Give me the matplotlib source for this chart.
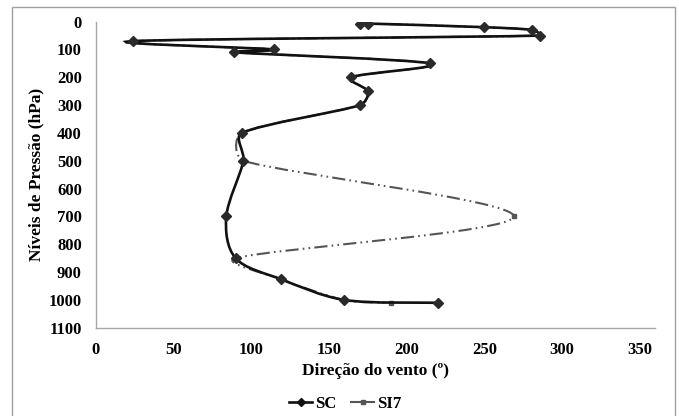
import numpy as np
import matplotlib.pyplot as plt
from matplotlib.path import Path
from matplotlib.patches import PathPatch, Rectangle
from matplotlib.lines import Line2D

plt.rcParams['font.family'] = ['Liberation Serif', 'DejaVu Serif']
plt.rcParams['font.weight'] = 'bold'
plt.rcParams['lines.scale_dashes'] = False

# wind direction (deg) and pressure level (hPa)
sc_dir = [170, 175, 250, 281, 286, 24, 115, 89, 215, 164, 175, 170, 94, 95, 84, 90, 119, 160, 220]
sc_p = [10, 7, 20, 30, 50, 70, 100, 110, 150, 200, 250, 300, 400, 500, 700, 850, 925, 1000, 1010]
si7_dir = [170, 175, 250, 281, 286, 24, 115, 89, 215, 164, 175, 170, 94, 95, 269, 90, 119, 160, 190]
si7_p = [10, 7, 20, 30, 50, 70, 100, 110, 150, 200, 250, 300, 400, 500, 700, 850, 925, 1000, 1010]

x_ticks = [0, 50, 100, 150, 200, 250, 300, 350]
y_ticks = [0, 100, 200, 300, 400, 500, 600, 700, 800, 900, 1000, 1100]


def clamp(v, m):
    n = np.hypot(*v)
    return v * (m / n) if n > m else v


def smooth_path(ax, x, y):
    # excel-like smoothed line, built in screen space then mapped back to data
    pts = ax.transData.transform(np.column_stack([x, y]).astype(float))
    n = len(pts)
    verts = [pts[0]]
    codes = [Path.MOVETO]
    for i in range(n - 1):
        p0 = pts[max(i - 1, 0)]
        p1 = pts[i]
        p2 = pts[i + 1]
        p3 = pts[min(i + 2, n - 1)]
        seg = np.hypot(*(p2 - p1)) / 3
        verts += [p1 + clamp((p2 - p0) / 6, seg), p2 - clamp((p3 - p1) / 6, seg), p2]
        codes += [Path.CURVE4] * 3
    verts = ax.transData.inverted().transform(np.array(verts))
    return Path(verts, codes)


fig = plt.figure(figsize=(6.79, 4.16), dpi=100)
ax = fig.add_axes([0.141, 0.212, 0.824, 0.736])
ax.set_xlim(0, 360)
ax.set_ylim(1100, 0)

si7_color = '#555555'
si7_dash = (0, (9.5, 3, 1.2, 3, 1.2, 3))
ax.add_patch(PathPatch(smooth_path(ax, si7_dir, si7_p), facecolor='none', edgecolor=si7_color,
                       lw=1.5, linestyle=si7_dash, zorder=2))
ax.plot(si7_dir, si7_p, linestyle='none', marker='s', markersize=3, color=si7_color, zorder=2)

ax.add_patch(PathPatch(smooth_path(ax, sc_dir, sc_p), facecolor='none', edgecolor='#111111',
                       lw=1.9, zorder=3))
ax.plot(sc_dir, sc_p, linestyle='none', marker='D', markersize=5, color='#2a2a2a', zorder=4)

ax.set_xticks(x_ticks)
ax.set_yticks(y_ticks)
ax.tick_params(length=0, labelsize=12, pad=10)
for lab in ax.get_xticklabels() + ax.get_yticklabels():
    lab.set_fontweight('bold')

for side in ['top', 'right']:
    ax.spines[side].set_visible(False)
for side in ['left', 'bottom']:
    ax.spines[side].set_color('#a6a6a6')
    ax.spines[side].set_linewidth(1.0)

ax.set_xlabel('Direção do vento (º)', fontsize=12.5, fontweight='bold', labelpad=4)
ax.set_ylabel('Níveis de Pressão (hPa)', fontsize=12.5, fontweight='bold', labelpad=3)

handles = [
    Line2D([], [], color='#111111', lw=1.9, marker='D', markersize=4),
    Line2D([], [], color=si7_color, lw=1.5, marker='s', markersize=3),
]
fig.legend(handles, ['SC', 'SI7'], loc='center', bbox_to_anchor=(0.508, 0.029), ncol=2,
           frameon=False, handlelength=1.4, handletextpad=0.15, columnspacing=0.9,
           prop={'weight': 'bold', 'size': 12})

# chart area border
fig.add_artist(Rectangle((12 / 679, -0.05), (675 - 12) / 679, 409 / 416 + 0.05,
                         transform=fig.transFigure, fill=False, edgecolor='#a0a0a0', lw=1.0))

fig.savefig('out.png', dpi=100)
